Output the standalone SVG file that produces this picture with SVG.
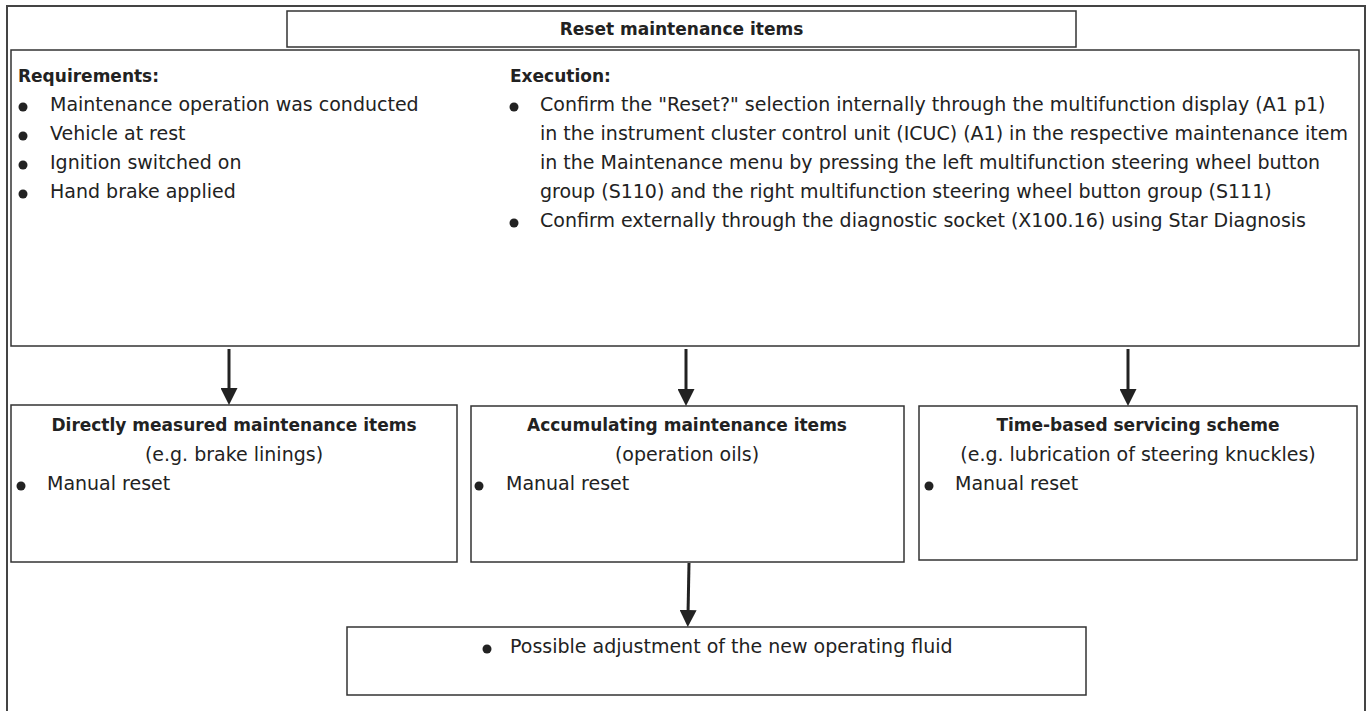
<svg xmlns="http://www.w3.org/2000/svg" width="1369" height="711" viewBox="0 0 1369 711">
<defs>
<marker id="ah" viewBox="0 0 10 10" refX="0" refY="5" markerWidth="17" markerHeight="17" markerUnits="userSpaceOnUse" orient="auto">
<path d="M0,0 L10,5 L0,10 z" fill="#222"/>
</marker>
<style>
.box{fill:#fff;stroke:#333;stroke-width:1.5}
.frame{fill:none;stroke:#444;stroke-width:2}
.t{font-family:"DejaVu Sans",sans-serif;font-size:19px;fill:#222}
.b{font-family:"DejaVu Sans",sans-serif;font-size:17px;font-weight:bold;fill:#222}
.c{text-anchor:middle}
.dot{fill:#222}
.conn{stroke:#222;stroke-width:3;fill:none}
</style>
</defs>
<rect width="1369" height="711" fill="#fff"/>
<path class="frame" d="M7,711 L7,6 L1365,6 L1365,711"/>

<g id="title">
<rect class="box" x="287" y="11" width="789" height="36"/>
<text class="b c" x="681.5" y="35">Reset maintenance items</text>
</g>

<g id="main">
<rect class="box" x="11" y="50" width="1348" height="296"/>
<text class="b" x="18" y="82">Requirements:</text>
<circle class="dot" cx="23" cy="107" r="4.5"/>
<text class="t" x="50" y="111">Maintenance operation was conducted</text>
<circle class="dot" cx="23" cy="136" r="4.5"/>
<text class="t" x="50" y="140">Vehicle at rest</text>
<circle class="dot" cx="23" cy="165" r="4.5"/>
<text class="t" x="50" y="169">Ignition switched on</text>
<circle class="dot" cx="23" cy="194" r="4.5"/>
<text class="t" x="50" y="198">Hand brake applied</text>

<text class="b" x="510" y="82">Execution:</text>
<circle class="dot" cx="514" cy="107" r="4.5"/>
<text class="t" x="540" y="111">Confirm the "Reset?" selection internally through the multifunction display (A1 p1)</text>
<text class="t" x="540" y="140">in the instrument cluster control unit (ICUC) (A1) in the respective maintenance item</text>
<text class="t" x="540" y="169">in the Maintenance menu by pressing the left multifunction steering wheel button</text>
<text class="t" x="540" y="198">group (S110) and the right multifunction steering wheel button group (S111)</text>
<circle class="dot" cx="514" cy="223" r="4.5"/>
<text class="t" x="540" y="227">Confirm externally through the diagnostic socket (X100.16) using Star Diagnosis</text>
</g>

<g id="direct">
<rect class="box" x="11" y="405" width="446" height="157"/>
<text class="b c" x="234" y="431">Directly measured maintenance items</text>
<text class="t c" x="234" y="461">(e.g. brake linings)</text>
<circle class="dot" cx="21" cy="486" r="4.5"/>
<text class="t" x="47" y="490">Manual reset</text>
</g>

<g id="accum">
<rect class="box" x="471" y="406" width="433" height="156"/>
<text class="b c" x="687" y="431">Accumulating maintenance items</text>
<text class="t c" x="687" y="461">(operation oils)</text>
<circle class="dot" cx="479" cy="486" r="4.5"/>
<text class="t" x="506" y="490">Manual reset</text>
</g>

<g id="timebased">
<rect class="box" x="919" y="406" width="438" height="154"/>
<text class="b c" x="1138" y="431">Time-based servicing scheme</text>
<text class="t c" x="1138" y="461">(e.g. lubrication of steering knuckles)</text>
<circle class="dot" cx="929" cy="486" r="4.5"/>
<text class="t" x="955" y="490">Manual reset</text>
</g>

<g id="fluid">
<rect class="box" x="347" y="627" width="739" height="68"/>
<circle class="dot" cx="487" cy="649" r="4.5"/>
<text class="t" x="510" y="653">Possible adjustment of the new operating fluid</text>
</g>

<g id="connectors">
<line class="conn" x1="229" y1="349" x2="229" y2="388" marker-end="url(#ah)"/>
<line class="conn" x1="686" y1="349" x2="686" y2="389" marker-end="url(#ah)"/>
<line class="conn" x1="1128" y1="349" x2="1128" y2="389" marker-end="url(#ah)"/>
<line class="conn" x1="689" y1="563" x2="688.1" y2="610" marker-end="url(#ah)"/>
</g>
</svg>
